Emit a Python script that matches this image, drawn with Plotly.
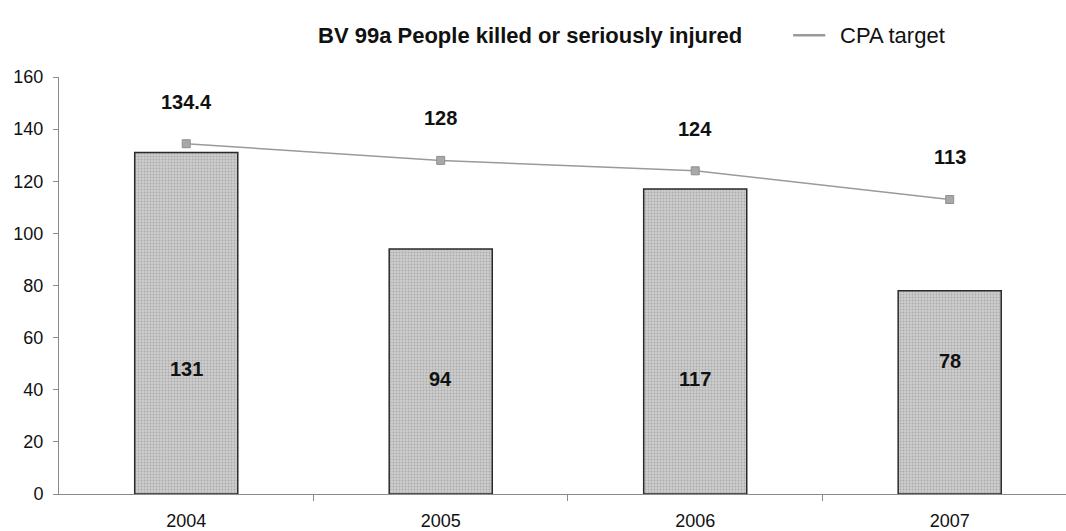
import plotly.graph_objects as go

years = ["2004", "2005", "2006", "2007"]
killed_injured = [131, 94, 117, 78]
cpa_target = [134.4, 128, 124, 113]
bar_label_y = [48, 44, 44, 51]
target_labels = ["134.4", "128", "124", "113"]
y_ticks = [0, 20, 40, 60, 80, 100, 120, 140, 160]

FONT = "Liberation Sans, Arial, sans-serif"
idx = list(range(len(years)))

fig = go.Figure()
fig.add_trace(go.Bar(
    x=idx, y=killed_injured, width=0.405,
    marker=dict(color="#c4c4c4", line=dict(color="#2a2a2a", width=1.5),
                pattern=dict(shape=".", fgcolor="#8a8a8a", bgcolor="#cccccc", size=3, solidity=0.3)),
    name="BV 99a People killed or seriously injured", showlegend=False,
))
fig.add_trace(go.Scatter(
    x=idx, y=cpa_target, mode="lines+markers",
    line=dict(color="#9a9a9a", width=1.5),
    marker=dict(symbol="square", size=8, color="#a8a8a8", line=dict(color="#909090", width=1)),
    name="CPA target", showlegend=False,
))

for i, y, v in zip(idx, bar_label_y, killed_injured):
    fig.add_annotation(x=i, y=y, text=f"<b>{v}</b>", showarrow=False,
                       font=dict(family=FONT, size=20, color="#111"))
for i, y, t in zip(idx, cpa_target, target_labels):
    fig.add_annotation(x=i, y=y, text=f"<b>{t}</b>", showarrow=False, yshift=42,
                       font=dict(family=FONT, size=20, color="#111"))

# legend drawn as text
fig.add_annotation(xref="paper", yref="paper", x=0.468, y=1.10,
                   text="<b>BV 99a People killed or seriously injured</b>", showarrow=False,
                   xanchor="center", yanchor="middle", font=dict(family=FONT, size=22, color="#111"))
fig.add_annotation(xref="paper", yref="paper", x=0.774, y=1.10,
                   text="CPA target", showarrow=False, xanchor="left", yanchor="middle",
                   font=dict(family=FONT, size=22, color="#111"))
fig.add_shape(type="line", xref="paper", yref="paper", x0=0.729, x1=0.761, y0=1.10, y1=1.10,
              line=dict(color="#9a9a9a", width=2.5))

fig.update_layout(
    width=1066, height=531,
    margin=dict(l=59, r=0, t=77, b=37, autoexpand=False),
    plot_bgcolor="white", paper_bgcolor="white",
    font=dict(family=FONT, size=18, color="#111"),
)
fig.update_xaxes(range=[-0.5, 3.457], tickvals=idx, ticktext=years,
                 showline=True, linecolor="#8a8a8a", linewidth=1,
                 ticks="", showgrid=False, zeroline=False, tickfont=dict(size=18),
                 ticklabelstandoff=10,
                 minor=dict(tickvals=[0.5, 1.5, 2.5], ticks="outside", ticklen=6,
                            tickcolor="#8a8a8a", showgrid=False))
fig.update_yaxes(range=[0, 160], tickvals=y_ticks, showline=True, linecolor="#8a8a8a",
                 linewidth=1, ticks="outside", ticklen=5, tickcolor="#8a8a8a",
                 showgrid=False, zeroline=False, tickfont=dict(size=18), ticklabelstandoff=6)

fig.write_html("out.html", config={"displayModeBar": False},
               post_script="document.body.style.margin='0';document.body.style.overflow='hidden';")
